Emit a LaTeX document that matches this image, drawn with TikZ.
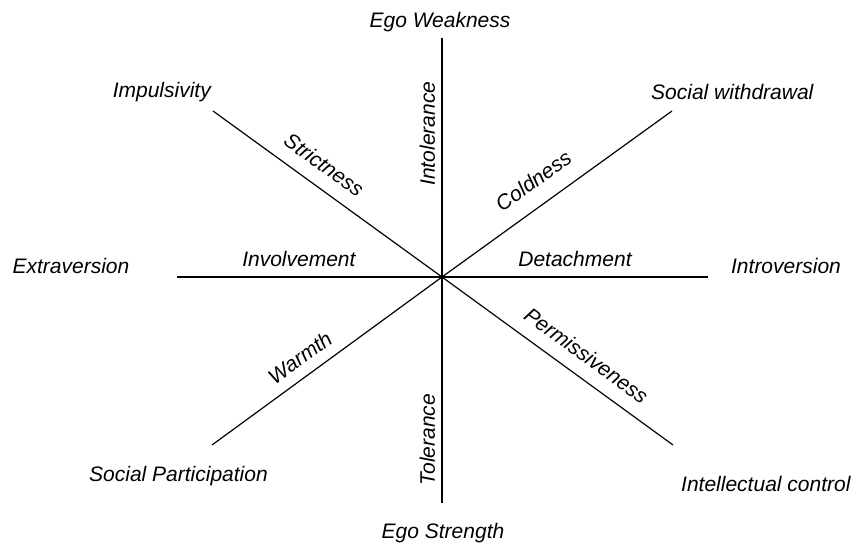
\documentclass[tikz,border=0pt]{standalone}
\usepackage{fontspec}
\setmainfont{Liberation Sans}
\usepackage{tikz}

\tikzset{
	axis/.style={line width=1.2pt},
	lbl/.style={font=\fontsize{21}{25}\selectfont\itshape, inner sep=2pt},
	onaxis/.style={lbl, sloped, above, outer sep=#1},
	onaxis/.default=8pt
}

\begin{document}
\begin{tikzpicture}[x=1pt,y=1pt]
	\useasboundingbox (0,0) rectangle (859,547);
	\coordinate (o) at (442,270);
	\coordinate (top) at (442,509);
	\coordinate (bot) at (442,44);
	\coordinate (left) at (177,270);
	\coordinate (right) at (708,270);
	\coordinate (ul) at (213,436);
	\coordinate (ur) at (672,436);
	\coordinate (ll) at (212,102);
	\coordinate (lr) at (673,102);
	
	\draw[axis] (o) -- node[onaxis=5pt,pos=0.6] (intol) {Intolerance} (top);
	\draw[axis] (bot) -- node[onaxis=5pt,pos=0.28] (tol) {Tolerance} (o);
	\draw[axis] (left) -- node[onaxis,pos=0.46] (invol) {Involvement} (o);
	\draw[axis] (o) -- node[onaxis,pos=0.5] (detach) {Detachment} (right);
	\draw[axis] (ul) -- node[onaxis=12pt,pos=0.43] (strict) {Strictness} (o);
	\draw[axis] (o) -- node[onaxis=15pt,pos=0.46] (cold) {Coldness} (ur);
	\draw[axis] (ll) -- node[onaxis=9pt,pos=0.43] (warm) {Warmth} (o);
	\draw[axis] (o) -- node[onaxis=12pt,pos=0.57] (permis) {Permissiveness} (lr);
	
	\node[lbl] (egow) at (440,525) {Ego Weakness};
	\node[lbl] (egos) at (443,14) {Ego Strength};
	\node[lbl,anchor=east] (impuls) at (213,455) {Impulsivity};
	\node[lbl,anchor=west] (withdr) at (649,455) {Social withdrawal};
	\node[lbl] (extra) at (71,281) {Extraversion};
	\node[lbl] (intro) at (786,281) {Introversion};
	\node[lbl,anchor=east] (partic) at (270,71) {Social Participation};
	\node[lbl,anchor=west] (intell) at (679,63) {Intellectual control};
\end{tikzpicture}
\end{document}
